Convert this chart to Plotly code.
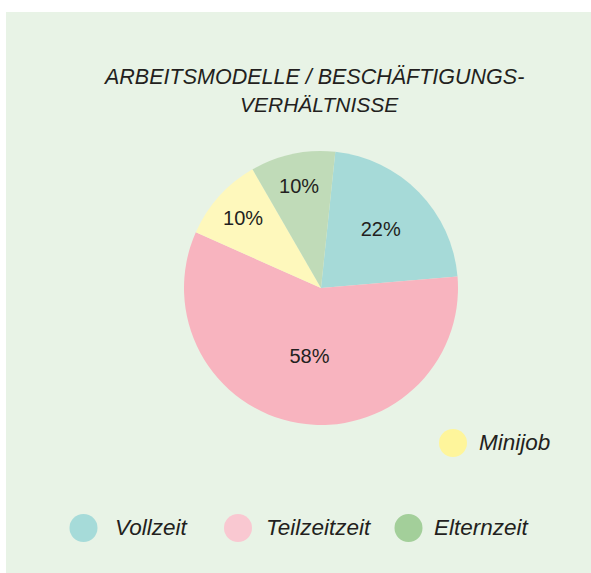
import plotly.graph_objects as go

W, H = 591, 573

# data
labels = ["Vollzeit", "Teilzeitzeit", "Minijob", "Elternzeit"]
shares = [22, 58, 10, 10]
pie_colors = ["#a6dad8", "#f8b4bf", "#fef8bc", "#c0dbb8"]
legend_colors = ["#a6dbd9", "#f9c8d1", "#fef59b", "#a3cf9a"]
title_lines = ["ARBEITSMODELLE / BESCHÄFTIGUNGS-", "VERHÄLTNISSE"]

TXT = "#231f20"
FONT = "Liberation Sans, Arial, sans-serif"


def px(x):
    return x / W


def py(y):
    return 1 - y / H


# pie geometry in pixels
cx, cy, r = 321, 288, 137

fig = go.Figure(
    go.Pie(
        labels=labels,
        values=shares,
        sort=False,
        direction="clockwise",
        rotation=6,
        marker=dict(colors=pie_colors, line=dict(width=0)),
        texttemplate="%{value}%",
        textposition="inside",
        insidetextorientation="horizontal",
        textfont=dict(family=FONT, size=20, color=TXT),
        hoverinfo="skip",
        showlegend=False,
        domain=dict(x=[px(cx - r), px(cx + r)], y=[py(cy + r), py(cy - r)]),
    )
)

shapes = [
    dict(type="rect", xref="paper", yref="paper", x0=px(6), x1=1, y0=0, y1=py(12),
         fillcolor="#e8f3e6", line=dict(width=0), layer="below")
]
annotations = []

# title
for text, x, y, size in zip(title_lines, [313.5, 319], [77, 104], [21.5, 21]):
    annotations.append(dict(
        text=text, x=px(x), y=py(y), xref="paper", yref="paper",
        xanchor="center", yanchor="middle", showarrow=False,
        font=dict(family=FONT, size=size, color=TXT, style="italic"),
    ))

# custom legend: circle + italic label
legend_pos = {
    "Vollzeit": (83.5, 528, 113),
    "Teilzeitzeit": (238, 528, 264),
    "Minijob": (453, 443, 476.5),
    "Elternzeit": (408.5, 528, 431.5),
}
for lab, col in zip(labels, legend_colors):
    mx, my, tx = legend_pos[lab]
    rr = 14
    shapes.append(dict(type="circle", xref="paper", yref="paper",
                       x0=px(mx - rr), x1=px(mx + rr), y0=py(my + rr), y1=py(my - rr),
                       fillcolor=col, line=dict(width=0)))
    annotations.append(dict(
        text=lab, x=px(tx), y=py(my - 1), xref="paper", yref="paper",
        xanchor="left", yanchor="middle", showarrow=False,
        font=dict(family=FONT, size=22.5, color=TXT, style="italic"),
    ))

fig.update_layout(
    width=W,
    height=H,
    margin=dict(l=0, r=0, t=0, b=0),
    paper_bgcolor="white",
    plot_bgcolor="white",
    shapes=shapes,
    annotations=annotations,
)

# drop the default body margin so the figure sits at the page origin
fig.write_html(
    "out.html",
    config={"displayModeBar": False},
    post_script="document.body.style.margin='0';document.body.style.overflow='hidden';",
)
